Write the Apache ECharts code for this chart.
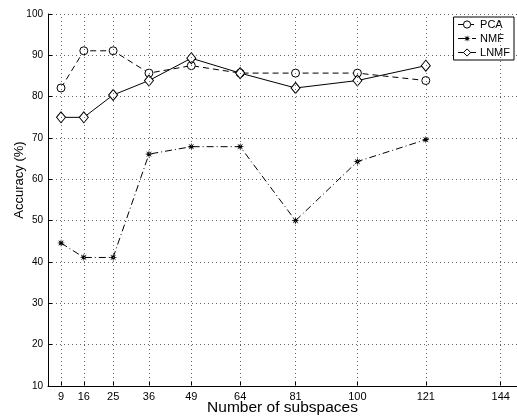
<!DOCTYPE html>
<html>
<head>
<meta charset="utf-8">
<script src="https://cdn.jsdelivr.net/npm/echarts@6/dist/echarts.min.js"></script>
<style>html,body{margin:0;padding:0;background:#fff}#main{width:517px;height:419px}</style>
</head>
<body>
<div id="main"></div>
<script>
// number of subspaces (x) and accuracy in % for each method
var subspaces = [9, 16, 25, 36, 49, 64, 81, 100, 121];
var xTicks = [9, 16, 25, 36, 49, 64, 81, 100, 121, 144];
var pca = [82.1, 91.1, 91.1, 85.7, 87.5, 85.7, 85.7, 85.7, 83.9];
var nmf = [44.6, 41.1, 41.1, 66.1, 67.9, 67.9, 50.0, 64.3, 69.6];
var lnmf = [75.0, 75.0, 80.4, 83.9, 89.3, 85.7, 82.1, 83.9, 87.5];

function pairs(ys) {
  return subspaces.map(function (x, i) { return [x, ys[i]]; });
}

// 8 armed asterisk, like the matlab '*' marker
function starPath() {
  var pts = [];
  for (var k = 0; k < 16; k++) {
    var a = k * Math.PI / 8;
    var r = k % 2 ? 1.9 : 5;
    pts.push((5 + r * Math.cos(a)).toFixed(2) + ',' + (5 + r * Math.sin(a)).toFixed(2));
  }
  return 'path://M' + pts.join('L') + 'Z';
}

var gridDots = { color: '#666', type: [1, 3], width: 1 };

var chart = echarts.init(document.getElementById('main'));
var font = 'Liberation Sans, Arial, sans-serif';
var option = {
  backgroundColor: '#fff',
  animation: false,
  textStyle: { fontFamily: font },
  grid: { left: 48, right: 0, top: 14, bottom: 33, containLabel: false, outerBoundsMode: 'none' },
  legend: {
    orient: 'vertical',
    right: 3,
    top: 17,
    itemWidth: 18,
    itemHeight: 9,
    itemGap: 3,
    padding: [2, 4, 2, 4],
    borderColor: '#000',
    borderWidth: 1,
    backgroundColor: '#fff',
    itemStyle: { borderWidth: 1 },
    lineStyle: { width: 1 },
    textStyle: { fontSize: 11, color: '#000', fontFamily: font, padding: [0, 0, 0, -1] },
    data: ['PCA', 'NMF', 'LNMF']
  },
  xAxis: {
    type: 'value',
    min: 5,
    max: 149,
    name: 'Number of subspaces',
    nameLocation: 'middle',
    nameGap: 14,
    nameMoveOverlap: false,
    nameTextStyle: { fontSize: 15.5, color: '#000' },
    axisLine: { lineStyle: { color: '#000', width: 1 } },
    axisTick: { inside: true, length: 4, customValues: xTicks, lineStyle: { color: '#000' } },
    axisLabel: { customValues: xTicks, fontSize: 11, color: '#000', margin: 5 },
    splitLine: { show: false }
  },
  yAxis: {
    type: 'value',
    min: 10,
    max: 100,
    interval: 10,
    name: 'Accuracy (%)',
    nameLocation: 'middle',
    nameGap: 22,
    nameMoveOverlap: false,
    nameTextStyle: { fontSize: 13, color: '#000', padding: [0, 0, 0, 40] },
    axisLine: { show: true, lineStyle: { color: '#000', width: 1 } },
    axisTick: { show: true, inside: true, length: 4, lineStyle: { color: '#000' } },
    axisLabel: { fontSize: 10, color: '#000', margin: 5 },
    splitLine: { show: true, lineStyle: gridDots }
  },
  series: [
    {
      name: 'PCA',
      type: 'line',
      data: pairs(pca),
      symbol: 'circle',
      symbolSize: 8,
      itemStyle: { color: '#fff', borderColor: '#000', borderWidth: 1 },
      lineStyle: { color: '#000', width: 1, type: [6, 4] },
      // vertical dotted grid lines at the x ticks
      markLine: {
        silent: true,
        symbol: 'none',
        label: { show: false },
        lineStyle: gridDots,
        data: xTicks.map(function (v) { return { xAxis: v }; })
      },
      z: 3
    },
    {
      name: 'NMF',
      type: 'line',
      data: pairs(nmf),
      symbol: starPath(),
      symbolSize: 8,
      itemStyle: { color: '#000', borderWidth: 0 },
      lineStyle: { color: '#000', width: 1, type: [7, 3, 1, 3] },
      z: 3
    },
    {
      name: 'LNMF',
      type: 'line',
      data: pairs(lnmf),
      symbol: 'diamond',
      symbolSize: [9, 11],
      itemStyle: { color: '#fff', borderColor: '#000', borderWidth: 1 },
      lineStyle: { color: '#000', width: 1, type: 'solid' },
      z: 3
    }
  ]
};
chart.setOption(option);
</script>
</body>
</html>
